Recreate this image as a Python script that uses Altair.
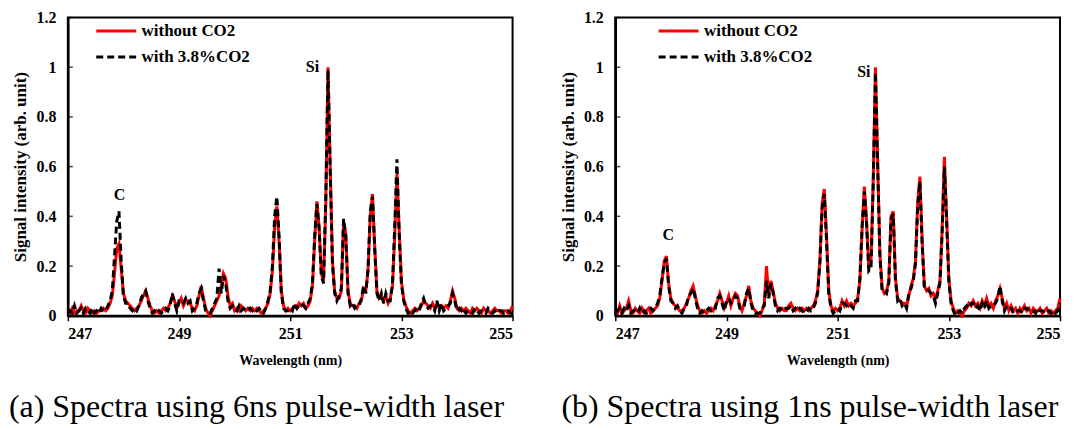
import altair as alt
import pandas as pd

SERIF = "Liberation Serif"

WL_START = 247.0
WL_STEP = 0.04

SERIES = ["without CO2", "with 3.8%CO2"]
COLORS = ["#ff0000", "#000000"]

# (a) 6 ns pulse-width laser
a_without = [
    0.02,0.01,0.03,0.01,0.02,0.02,0.04,0.02,0.01,0.03,0.02,0.01,0.02,0.01,0.02,0.02,0.03,0.02,0.03,0.05,0.08,0.17,0.27,0.29,0.19,
    0.09,0.06,0.05,0.04,0.03,0.02,0.03,0.04,0.06,0.08,0.10,0.07,0.04,0.02,0.01,0.02,0.01,0.02,0.03,0.02,0.03,0.05,0.08,0.06,0.03,
    0.05,0.07,0.04,0.06,0.06,0.05,0.03,0.02,0.04,0.08,0.12,0.07,0.03,0.01,0.00,0.02,0.04,0.06,0.08,0.12,0.17,0.15,0.08,0.04,0.05,
    0.02,0.03,0.02,0.04,0.03,0.02,0.03,0.02,0.03,0.02,0.03,0.02,0.01,0.02,0.03,0.05,0.09,0.18,0.36,0.44,0.30,0.10,0.04,0.02,0.03,
    0.02,0.03,0.04,0.03,0.05,0.04,0.05,0.03,0.04,0.06,0.12,0.30,0.46,0.36,0.17,0.14,0.45,1.00,0.60,0.22,0.10,0.07,0.07,0.10,0.38,
    0.33,0.10,0.05,0.04,0.04,0.03,0.05,0.06,0.11,0.10,0.18,0.40,0.49,0.28,0.10,0.07,0.08,0.06,0.08,0.05,0.07,0.12,0.32,0.57,0.35,
    0.14,0.07,0.04,0.02,0.01,0.02,0.03,0.02,0.03,0.04,0.06,0.05,0.04,0.03,0.05,0.03,0.05,0.03,0.04,0.03,0.04,0.03,0.06,0.10,0.07,
    0.03,0.02,0.03,0.02,0.03,0.02,0.01,0.03,0.02,0.03,0.02,0.01,0.03,0.02,0.02,0.01,0.02,0.03,0.02,0.02,0.01,0.02,0.02,0.01,0.02,0.04,
]
a_with = [
    0.01,0.02,0.01,0.04,0.01,0.02,0.03,0.01,0.03,0.02,0.01,0.03,0.01,0.02,0.01,0.03,0.02,0.02,0.04,0.06,0.10,0.24,0.38,0.42,0.22,
    0.08,0.05,0.05,0.03,0.02,0.03,0.02,0.04,0.07,0.09,0.10,0.06,0.03,0.01,0.02,0.01,0.02,0.01,0.02,0.03,0.02,0.04,0.09,0.05,0.02,
    0.06,0.06,0.05,0.07,0.05,0.06,0.02,0.03,0.05,0.09,0.11,0.06,0.02,0.01,0.01,0.03,0.05,0.07,0.19,0.09,0.16,0.13,0.06,0.03,0.04,
    0.03,0.02,0.04,0.02,0.03,0.02,0.02,0.03,0.02,0.03,0.02,0.03,0.02,0.01,0.03,0.06,0.10,0.20,0.40,0.48,0.32,0.09,0.03,0.02,0.02,
    0.03,0.02,0.05,0.03,0.04,0.05,0.04,0.03,0.05,0.07,0.13,0.32,0.45,0.35,0.16,0.13,0.47,0.99,0.58,0.21,0.09,0.06,0.08,0.11,0.39,
    0.32,0.09,0.04,0.05,0.03,0.04,0.04,0.07,0.12,0.09,0.19,0.42,0.48,0.27,0.09,0.06,0.09,0.05,0.09,0.06,0.06,0.13,0.36,0.63,0.33,
    0.13,0.06,0.03,0.01,0.02,0.01,0.02,0.03,0.02,0.05,0.07,0.04,0.03,0.04,0.04,0.02,0.06,0.02,0.05,0.02,0.03,0.04,0.05,0.09,0.06,
    0.02,0.03,0.02,0.03,0.01,0.02,0.02,0.01,0.03,0.02,0.01,0.02,0.02,0.01,0.03,0.02,0.01,0.02,0.01,0.02,0.02,0.01,0.02,0.02,0.01,0.01,
]

# (b) 1 ns pulse-width laser
b_without = [
    0.02,0.01,0.04,0.01,0.02,0.03,0.06,0.02,0.01,0.03,0.02,0.01,0.03,0.01,0.02,0.03,0.01,0.02,0.03,0.04,0.07,0.14,0.22,0.24,0.13,
    0.07,0.05,0.04,0.03,0.02,0.02,0.03,0.05,0.07,0.10,0.12,0.08,0.04,0.02,0.01,0.02,0.01,0.02,0.03,0.02,0.04,0.06,0.09,0.06,0.03,
    0.05,0.08,0.04,0.07,0.09,0.08,0.04,0.02,0.05,0.08,0.12,0.06,0.03,0.02,0.01,0.00,0.02,0.05,0.20,0.08,0.14,0.10,0.05,0.03,0.02,
    0.03,0.02,0.02,0.04,0.05,0.03,0.02,0.03,0.02,0.03,0.02,0.03,0.02,0.03,0.04,0.06,0.10,0.22,0.45,0.51,0.32,0.10,0.04,0.02,0.03,
    0.02,0.03,0.06,0.04,0.06,0.04,0.05,0.04,0.05,0.07,0.14,0.35,0.52,0.38,0.19,0.22,0.55,1.00,0.62,0.25,0.11,0.09,0.10,0.14,0.40,
    0.42,0.15,0.07,0.06,0.05,0.05,0.04,0.08,0.12,0.15,0.22,0.46,0.56,0.30,0.12,0.10,0.11,0.08,0.09,0.07,0.10,0.14,0.35,0.64,0.40,
    0.15,0.06,0.03,0.01,0.02,0.01,0.00,0.02,0.03,0.05,0.04,0.06,0.04,0.05,0.03,0.06,0.04,0.07,0.04,0.05,0.03,0.06,0.08,0.11,0.07,
    0.03,0.05,0.02,0.04,0.02,0.03,0.01,0.03,0.02,0.04,0.02,0.03,0.01,0.03,0.02,0.02,0.03,0.01,0.02,0.03,0.01,0.02,0.01,0.02,0.03,0.07,
]
b_with = [
    0.01,0.02,0.03,0.01,0.03,0.02,0.04,0.01,0.02,0.02,0.01,0.03,0.01,0.02,0.01,0.02,0.03,0.02,0.03,0.05,0.08,0.15,0.21,0.23,0.12,
    0.06,0.05,0.03,0.04,0.02,0.01,0.03,0.04,0.08,0.09,0.11,0.07,0.03,0.01,0.02,0.01,0.02,0.03,0.02,0.03,0.03,0.07,0.08,0.05,0.02,
    0.06,0.07,0.05,0.06,0.08,0.07,0.03,0.03,0.04,0.09,0.11,0.05,0.02,0.01,0.01,0.01,0.03,0.04,0.14,0.07,0.13,0.09,0.04,0.02,0.03,
    0.02,0.03,0.03,0.03,0.04,0.02,0.03,0.02,0.03,0.02,0.01,0.02,0.03,0.02,0.03,0.05,0.09,0.21,0.43,0.49,0.30,0.09,0.03,0.01,0.02,
    0.03,0.02,0.05,0.05,0.04,0.05,0.04,0.03,0.06,0.06,0.15,0.36,0.50,0.37,0.18,0.19,0.53,0.98,0.60,0.24,0.10,0.10,0.09,0.13,0.39,
    0.41,0.14,0.06,0.07,0.04,0.05,0.03,0.09,0.11,0.14,0.21,0.44,0.54,0.29,0.11,0.11,0.10,0.09,0.08,0.05,0.09,0.13,0.34,0.60,0.38,
    0.14,0.05,0.02,0.00,0.01,0.02,0.01,0.03,0.04,0.03,0.05,0.05,0.03,0.04,0.02,0.05,0.03,0.06,0.03,0.04,0.04,0.05,0.07,0.12,0.06,
    0.02,0.04,0.03,0.03,0.01,0.02,0.02,0.02,0.01,0.03,0.03,0.02,0.02,0.02,0.01,0.03,0.02,0.02,0.01,0.02,0.02,0.01,0.02,0.01,0.02,0.05,
]

x_ticks = [247, 249, 251, 253, 255]
y_ticks = [0, 0.2, 0.4, 0.6, 0.8, 1.0, 1.2]

a_peak_labels = ["C", "Si"]
a_peak_x = [247.93, 251.40]
a_peak_y = [0.487, 1.00]
b_peak_labels = ["C", "Si"]
b_peak_x = [247.955, 251.47]
b_peak_y = [0.323, 0.98]

captions = ["(a) Spectra using 6ns pulse-width laser",
            "(b) Spectra using 1ns pulse-width laser"]


def series_df(vals, name):
    return pd.DataFrame({
        "wl": [round(WL_START + WL_STEP * i, 2) for i in range(len(vals))],
        "value": vals,
        "series": name,
    })


def panel(without, with_, labs, lx, ly, caption, legend_x, caption_dx):
    x = alt.X("wl:Q",
              scale=alt.Scale(domain=[247, 255], nice=False, zero=False),
              axis=alt.Axis(values=x_ticks, format="d", title="Wavelength (nm)",
                            tickSize=5, tickWidth=1.5, labelPadding=5,
                            titleFontSize=14, titlePadding=12))
    y = alt.Y("value:Q",
              scale=alt.Scale(domain=[0, 1.2], nice=False),
              axis=alt.Axis(values=y_ticks, format="~g",
                            title="Signal intensity (arb. unit)",
                            ticks=False, labelPadding=12,
                            titleFontSize=17, titlePadding=6))
    color = alt.Color("series:N",
                      scale=alt.Scale(domain=SERIES, range=COLORS),
                      legend=alt.Legend(title=None, orient="none",
                                        legendX=legend_x, legendY=2,
                                        symbolType="M-2,0H2", symbolSize=400,
                                        symbolStrokeWidth=3,
                                        labelFont=SERIF, labelFontSize=17,
                                        labelFontWeight="bold", labelColor="black",
                                        rowPadding=6, labelOffset=14))
    dash = alt.StrokeDash("series:N",
                          scale=alt.Scale(domain=SERIES, range=[[1, 0], [7, 4]]),
                          legend=None)
    red = alt.Chart(series_df(without, SERIES[0])).mark_line(strokeWidth=3).encode(
        x=x, y=y, color=color, strokeDash=dash)
    black = alt.Chart(series_df(with_, SERIES[1])).mark_line(strokeWidth=3).encode(
        x=x, y=y, color=color, strokeDash=dash)
    ticks = alt.Chart(pd.DataFrame({"value": y_ticks})).mark_tick(
        color="black", thickness=1.5, size=5).encode(y=y, x=alt.value(2.5))
    text = alt.Chart(pd.DataFrame({"wl": lx, "value": ly, "lab": labs})).mark_text(
        font=SERIF, fontSize=16, fontWeight="bold", color="black").encode(
        x=x, y=y, text="lab:N")
    return alt.layer(red, black, ticks, text).properties(
        width=446, height=299,
        title=alt.TitleParams(text=caption, orient="bottom", font=SERIF,
                              fontSize=32, fontWeight="normal", color="black",
                              anchor="start", frame="group", dx=caption_dx,
                              offset=25))


left = panel(a_without, a_with, a_peak_labels, a_peak_x, a_peak_y, captions[0], 37, -59)
right = panel(b_without, b_with, b_peak_labels, b_peak_x, b_peak_y, captions[1], 52, -54)

chart = alt.hconcat(left, right, spacing=39).resolve_scale(
    color="independent", strokeDash="independent"
).resolve_legend(color="independent", strokeDash="independent").configure(
    padding={"left": 0, "top": 0, "right": 0, "bottom": 0}
).configure_view(stroke="black", strokeWidth=2).configure_axis(
    grid=False, labelFont=SERIF, labelFontSize=16, labelFontWeight="bold",
    labelColor="black", titleFont=SERIF, titleFontWeight="bold",
    titleColor="black", domainColor="black", domainWidth=2.5, tickColor="black"
)

chart.save("out.html", embed_options={"renderer": "svg", "actions": False})
